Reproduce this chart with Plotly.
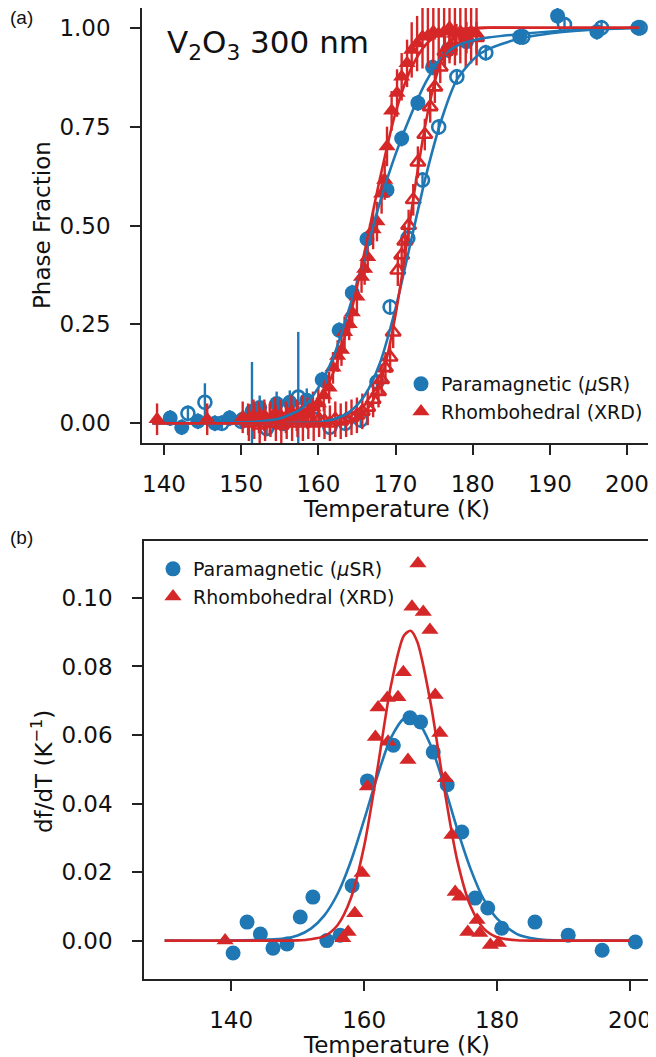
import plotly.graph_objects as go

BLUE = "#1f77b4"
RED = "#d62728"
FONT = "DejaVu Sans"

# ---------------- Panel (a): phase fraction ----------------
# muSR paramagnetic fraction, cooling (filled circles)
mu_cool_T = [140.8, 142.3, 144.4, 146.6, 148.5, 150.2, 151.4, 152.4, 154.6, 156.3, 158.5, 160.5,
             162.7, 164.4, 166.3, 168.9, 170.8, 172.9, 174.8, 176.8, 179.2, 186.1, 191.0, 196.1, 201.4]
mu_cool_f = [0.013, -0.01, 0.005, 0.0, 0.013, 0.01, 0.03, 0.04, 0.05, 0.053, 0.058, 0.11,
             0.235, 0.33, 0.466, 0.59, 0.72, 0.81, 0.90, 0.944, 0.965, 0.977, 1.03, 0.99, 1.0]
mu_cool_err = [0.02, 0.02, 0.02, 0.02, 0.02, 0.02, 0.125, 0.03, 0.03, 0.03, 0.03, 0.02,
               0.02, 0.02, 0.02, 0.02, 0.02, 0.02, 0.02, 0.02, 0.02, 0.02, 0.02, 0.02, 0.02]

# muSR paramagnetic fraction, warming (open circles)
mu_warm_T = [143.1, 145.3, 147.5, 150.0, 153.3, 155.5, 157.4, 159.5, 161.5, 163.5, 165.5, 167.6,
             169.3, 171.6, 173.5, 175.6, 177.95, 181.7, 186.5, 191.9, 196.7, 201.7]
mu_warm_f = [0.025, 0.053, 0.0, 0.005, -0.013, 0.0, 0.066, 0.01, -0.01, 0.0, 0.008, 0.104,
             0.294, 0.468, 0.615, 0.749, 0.876, 0.937, 0.977, 1.008, 1.0, 1.0]
mu_warm_err = [0.02, 0.048, 0.02, 0.02, 0.02, 0.02, 0.165, 0.02, 0.02, 0.02, 0.02, 0.02,
               0.02, 0.02, 0.02, 0.02, 0.02, 0.02, 0.02, 0.02, 0.02, 0.02]

# XRD rhombohedral fraction, cooling (filled triangles)
xrd_cool_T = [139.1, 145.6, 150.2, 150.9, 151.6, 152.3, 153.0, 153.7, 154.4, 155.1, 155.8, 156.5,
              157.2, 157.9, 158.6, 159.3, 160.0, 160.7, 161.4, 161.9, 162.5, 163.0, 163.4, 164.0,
              164.4, 165.0, 165.6, 166.0, 166.4, 167.1, 167.6, 168.2, 168.6, 168.9, 169.5, 170.2,
              170.8, 171.5, 172.1, 172.8, 173.5, 174.2, 174.9, 175.6, 176.3, 177.0, 177.7, 178.4,
              179.1, 179.8, 180.5]
xrd_cool_f = [0.01, 0.01, 0.015, 0.01, 0.02, 0.015, 0.02, 0.01, 0.025, 0.02, 0.015, 0.03,
              0.02, 0.03, 0.025, 0.04, 0.05, 0.07, 0.09, 0.14, 0.17, 0.185, 0.23, 0.25,
              0.28, 0.32, 0.37, 0.39, 0.42, 0.49, 0.51, 0.58, 0.615, 0.70, 0.79, 0.835,
              0.876, 0.91, 0.944, 0.96, 0.977, 0.98, 0.99, 0.985, 0.99, 1.0, 0.985, 0.99,
              0.98, 0.99, 0.985]
xrd_cool_err = [0.04, 0.04, 0.04, 0.04, 0.04, 0.04, 0.04, 0.04, 0.04, 0.04, 0.04, 0.04,
                0.04, 0.04, 0.04, 0.04, 0.04, 0.04, 0.04, 0.04, 0.04, 0.04, 0.04, 0.04,
                0.04, 0.04, 0.04, 0.04, 0.04, 0.05, 0.05, 0.05, 0.05, 0.05, 0.05, 0.06,
                0.06, 0.06, 0.07, 0.07, 0.08, 0.08, 0.08, 0.08, 0.08, 0.08, 0.08, 0.08,
                0.08, 0.08, 0.08]

# XRD rhombohedral fraction, warming (open triangles)
xrd_warm_T = [151.0, 151.7, 152.4, 153.1, 153.8, 154.5, 155.2, 155.9, 156.6, 157.3, 158.0, 158.7,
              159.4, 160.1, 160.8, 161.5, 162.2, 162.9, 163.6, 164.3, 165.0, 165.7, 166.4, 167.1,
              167.8, 168.2, 168.7, 169.3, 169.7, 170.3, 170.8, 171.2, 171.7, 172.3, 172.9, 173.8,
              174.5, 175.1, 175.8, 176.4, 177.0, 177.9, 179.2, 180.5]
xrd_warm_f = [0.0, 0.005, -0.005, 0.0, 0.01, 0.0, -0.005, 0.005, 0.0, 0.01, 0.0, 0.005,
              0.0, 0.01, 0.005, 0.0, 0.01, 0.005, 0.01, 0.015, 0.02, 0.03, 0.04, 0.06,
              0.08, 0.11, 0.14, 0.167, 0.23, 0.387, 0.425, 0.46, 0.50, 0.565, 0.66, 0.73,
              0.80, 0.85, 0.90, 0.94, 0.95, 0.97, 0.975, 0.975]
xrd_warm_err = [0.045, 0.045, 0.045, 0.045, 0.045, 0.045, 0.045, 0.045, 0.045, 0.045,
                0.045, 0.045, 0.045, 0.045, 0.045, 0.045, 0.045, 0.045, 0.045, 0.045, 0.045,
                0.045, 0.045, 0.045, 0.04, 0.04, 0.04, 0.04, 0.04, 0.04, 0.04, 0.04, 0.04,
                0.04, 0.04, 0.04, 0.04, 0.04, 0.04, 0.04, 0.04, 0.04, 0.04, 0.04]

# fitted curves
fit_T = [138.5, 148, 152, 155, 158, 160, 162, 164, 166, 168, 170, 172, 174, 176, 178, 181, 186, 191, 196, 201.5]
fit_mu_cool = [0.0, 0.001, 0.004, 0.012, 0.04, 0.09, 0.17, 0.29, 0.42, 0.56, 0.68, 0.78, 0.865, 0.925,
               0.955, 0.972, 0.984, 0.992, 0.996, 1.0]
fit_mu_warm = [0.0, 0.0, 0.0, 0.0005, 0.001, 0.002, 0.01, 0.028, 0.07, 0.153, 0.29, 0.46, 0.63, 0.77,
               0.87, 0.935, 0.972, 0.988, 0.996, 1.0]
fit_xrd_cool = [0.0, 0.0, 0.0, 0.003, 0.019, 0.055, 0.131, 0.26, 0.434, 0.62, 0.785, 0.896, 0.959, 0.986,
                0.996, 1.0, 1.0, 1.0, 1.0, 1.0]
fit_T_xw = [138.5, 150, 160, 164, 166, 167, 168, 169, 170, 171, 172, 173, 174, 175, 176, 177, 178, 180,
            182, 190, 201.5]
fit_xrd_warm = [0.0, 0.0, 0.0, 0.005, 0.027, 0.055, 0.102, 0.176, 0.274, 0.394, 0.528, 0.655, 0.768,
                0.857, 0.919, 0.958, 0.981, 0.997, 1.0, 1.0, 1.0]

# ---------------- Panel (b): df/dT ----------------
d_mu_T = [140.3, 142.4, 144.4, 146.3, 148.4, 150.4, 152.3, 154.4, 156.4, 158.2, 160.5, 164.4,
          166.9, 168.5, 170.4, 172.5, 174.7, 176.7, 178.6, 180.7, 185.7, 190.7, 195.8, 200.8]
d_mu = [-0.0036, 0.0054, 0.0019, -0.0022, -0.001, 0.0069, 0.0127, 0.0, 0.0016, 0.016, 0.0466, 0.057,
        0.065, 0.0638, 0.055, 0.0455, 0.0317, 0.0124, 0.0095, 0.0036, 0.0054, 0.0016, -0.0028, -0.0004]

d_xrd_T = [139.1, 156.8, 157.6, 158.6, 159.7, 160.5, 161.7, 162.1, 163.5, 163.6, 165.1, 165.9,
           166.6, 167.2, 168.1, 168.9, 169.9, 170.7, 171.4, 172.2, 173.2, 173.7, 174.4, 175.6,
           177.0, 177.4, 179.0, 180.2]
d_xrd = [0.0, 0.0007, 0.0025, 0.008, 0.0197, 0.045, 0.0594, 0.068, 0.0708, 0.058, 0.071, 0.0783,
         0.0527, 0.0974, 0.110, 0.0959, 0.0906, 0.0717, 0.0606, 0.0474, 0.0308, 0.0142, 0.0128, 0.0025,
         0.006, 0.0022, -0.0013, -0.0007]

dfit_T = [130, 140, 145, 148, 150, 152, 154, 156, 158, 160, 162, 164, 166, 167, 168, 170, 172, 174,
          176, 178, 180, 183, 186, 190, 195, 200]
dfit_mu = [0.0, 0.0, 0.00025, 0.00057, 0.0015, 0.0035, 0.0073, 0.0136, 0.0231, 0.0352, 0.048, 0.059,
           0.0649, 0.0655, 0.0642, 0.0571, 0.0456, 0.0326, 0.021, 0.012, 0.0064, 0.0019, 0.00046, 0.0,
           0.0, 0.0]
dfit_xrd = [0.0, 0.0, 0.0, 0.0, 0.00006, 0.0004, 0.0013, 0.0045, 0.0123, 0.0275, 0.050, 0.074,
            0.089, 0.0904, 0.0872, 0.0694, 0.045, 0.0235, 0.0101, 0.0035, 0.001, 0.0001, 0.0, 0.0,
            0.0, 0.0]

legend_names = ["Paramagnetic (<i>μ</i>SR)", "Rhombohedral (XRD)"]

fig = go.Figure()

MS = 15
LW = 2.6


def add_pts(x, y, e, color, symbol, xa, ya, open_=False):
    marker = dict(size=MS, symbol=symbol, color=color)
    if open_:
        marker = dict(size=MS - 2, symbol=symbol, color=color, line=dict(color=color, width=2.6))
    ed = None
    if e is not None:
        ed = dict(type="data", array=e, visible=True, color=color, thickness=2.4, width=0)
    fig.add_trace(go.Scatter(x=x, y=y, mode="markers", marker=marker, error_y=ed,
                             xaxis=xa, yaxis=ya, showlegend=False, hoverinfo="skip"))


def add_line(x, y, color, xa, ya):
    fig.add_trace(go.Scatter(x=x, y=y, mode="lines", line=dict(color=color, width=LW, shape="spline",
                                                                smoothing=0.8),
                             xaxis=xa, yaxis=ya, showlegend=False, hoverinfo="skip"))


# panel (a)
add_pts(mu_cool_T, mu_cool_f, mu_cool_err, BLUE, "circle", "x", "y")
add_pts(mu_warm_T, mu_warm_f, mu_warm_err, BLUE, "circle-open", "x", "y", open_=True)
add_pts(xrd_cool_T, xrd_cool_f, xrd_cool_err, RED, "triangle-up", "x", "y")
add_pts(xrd_warm_T, xrd_warm_f, xrd_warm_err, RED, "triangle-up-open", "x", "y", open_=True)
add_line(fit_T, fit_mu_cool, BLUE, "x", "y")
add_line(fit_T, fit_mu_warm, BLUE, "x", "y")
add_line(fit_T, fit_xrd_cool, RED, "x", "y")
add_line(fit_T_xw, fit_xrd_warm, RED, "x", "y")

# panel (b)
add_pts(d_mu_T, d_mu, None, BLUE, "circle", "x2", "y2")
add_pts(d_xrd_T, d_xrd, None, RED, "triangle-up", "x2", "y2")
add_line(dfit_T, dfit_mu, BLUE, "x2", "y2")
add_line(dfit_T, dfit_xrd, RED, "x2", "y2")

# legend entries
for lg, xa, ya in [("legend", "x", "y"), ("legend2", "x2", "y2")]:
    fig.add_trace(go.Scatter(x=[None], y=[None], mode="markers", name=legend_names[0],
                             marker=dict(size=MS, symbol="circle", color=BLUE),
                             xaxis=xa, yaxis=ya, legend=lg, showlegend=True))
    fig.add_trace(go.Scatter(x=[None], y=[None], mode="markers", name=legend_names[1],
                             marker=dict(size=MS, symbol="triangle-up", color=RED),
                             xaxis=xa, yaxis=ya, legend=lg, showlegend=True))

# the page body adds an 8 px margin, so the figure covers page pixels 8..656 / 8..1057
OFF = 8
W, H = 656 - OFF, 1057 - OFF


def px_x(p):
    return (p - OFF) / W


def px_y(p):
    return 1 - (p - OFF) / H


FS = 23
LFS = 19
axis_common = dict(showline=True, linecolor="#222", linewidth=1.5, mirror=True, ticks="outside",
                   ticklen=10, tickwidth=1.5, tickcolor="#222", showgrid=False, zeroline=False,
                   automargin=False, tickfont=dict(family=FONT, size=FS, color="#111"))

fig.update_layout(
    width=W, height=H, margin=dict(l=0, r=0, t=0, b=0, autoexpand=False),
    paper_bgcolor="white", plot_bgcolor="white",
    xaxis=dict(domain=[px_x(142), px_x(650)], range=[137.15, 202.98], tickvals=[140, 150, 160, 170, 180, 190, 200],
               anchor="y", ticklabelstandoff=10, **axis_common),
    yaxis=dict(domain=[px_y(443), px_y(8)], range=[-0.05, 1.05], tickvals=[0, 0.25, 0.5, 0.75, 1.0],
               tickformat=".2f", anchor="x", ticklabelstandoff=15, **axis_common),
    xaxis2=dict(domain=[px_x(144), px_x(650)], range=[126.9, 203.0], tickvals=[140, 160, 180, 200],
                anchor="y2", ticklabelstandoff=10, **axis_common),
    yaxis2=dict(domain=[px_y(979), px_y(541)], range=[-0.0112, 0.1166],
                tickvals=[0, 0.02, 0.04, 0.06, 0.08, 0.10], tickformat=".2f", anchor="x2",
                ticklabelstandoff=15, **axis_common),
    legend=dict(x=px_x(401), y=px_y(365), xanchor="left", yanchor="top", bgcolor="rgba(255,255,255,0.8)",
                font=dict(family=FONT, size=LFS, color="#111"), tracegroupgap=0, itemsizing="trace"),
    legend2=dict(x=px_x(153), y=px_y(550), xanchor="left", yanchor="top", bgcolor="rgba(255,255,255,0.8)",
                 font=dict(family=FONT, size=LFS, color="#111"), tracegroupgap=0, itemsizing="trace"),
    showlegend=True,
)

annots = [
    dict(text="V<sub>2</sub>O<sub>3</sub> 300 nm", x=px_x(165), y=px_y(45), xanchor="left", yanchor="middle",
         font=dict(family=FONT, size=31, color="#111")),
    dict(text="Phase Fraction", x=px_x(42), y=px_y(225), textangle=-90, xanchor="center", yanchor="middle",
         font=dict(family=FONT, size=FS, color="#111")),
    dict(text="Temperature (K)", x=px_x(396), y=px_y(509), xanchor="center", yanchor="middle",
         font=dict(family=FONT, size=FS, color="#111")),
    dict(text="df/dT (K<sup>−1</sup>)", x=px_x(42), y=px_y(772), textangle=-90, xanchor="center",
         yanchor="middle", font=dict(family=FONT, size=FS, color="#111")),
    dict(text="Temperature (K)", x=px_x(396), y=px_y(1045), xanchor="center", yanchor="middle",
         font=dict(family=FONT, size=FS, color="#111")),
    dict(text="(a)", x=px_x(8), y=px_y(18), xanchor="left", yanchor="middle",
         font=dict(family="Liberation Sans", size=19, color="#111")),
    dict(text="(b)", x=px_x(8), y=px_y(537), xanchor="left", yanchor="middle",
         font=dict(family="Liberation Sans", size=19, color="#111")),
]
for a in annots:
    a.update(xref="paper", yref="paper", showarrow=False)
fig.update_layout(annotations=annots)

fig.write_html("out.html")
